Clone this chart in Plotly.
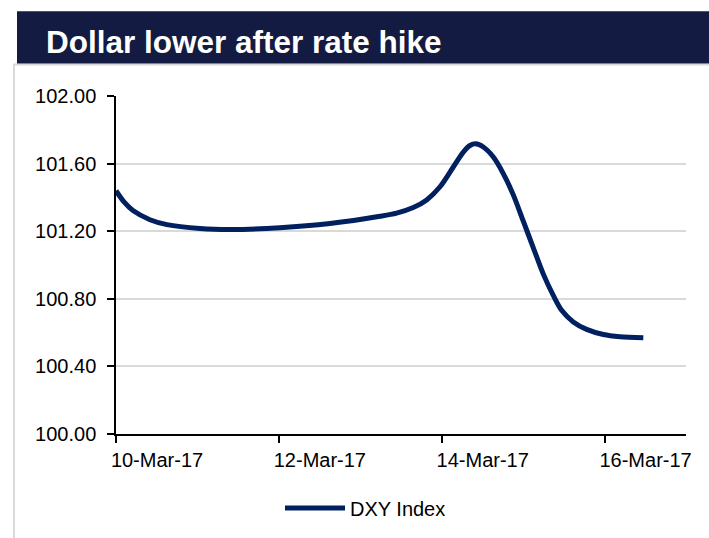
import plotly.graph_objects as go

# DXY Index readings
dates = [
    "2017-03-10 00:00", "2017-03-10 02:30", "2017-03-10 05:00", "2017-03-10 10:00", "2017-03-10 15:00",
    "2017-03-11 00:45", "2017-03-11 09:36", "2017-03-12 00:20", "2017-03-12 15:04",
    "2017-03-13 05:49", "2017-03-13 10:43", "2017-03-13 15:37", "2017-03-13 19:34",
    "2017-03-13 23:30", "2017-03-14 03:25", "2017-03-14 06:22", "2017-03-14 08:20",
    "2017-03-14 10:00", "2017-03-14 12:16", "2017-03-14 15:13", "2017-03-14 18:09",
    "2017-03-14 21:06", "2017-03-15 00:03", "2017-03-15 03:00", "2017-03-15 05:57",
    "2017-03-15 08:53", "2017-03-15 11:21", "2017-03-15 14:47", "2017-03-15 18:43",
    "2017-03-15 23:38", "2017-03-16 04:32", "2017-03-16 11:25",
]
dxy = [
    101.44, 101.37, 101.322, 101.268, 101.239,
    101.216, 101.21, 101.22, 101.245,
    101.288, 101.307, 101.34, 101.385,
    101.463, 101.58, 101.668, 101.707,
    101.717, 101.698, 101.639, 101.541,
    101.415, 101.259, 101.102, 100.946,
    100.82, 100.732, 100.663, 100.619,
    100.589, 100.576, 100.57,
]
series_name = "DXY Index"
title_text = "Dollar lower after rate hike"
y_ticks = [100.0, 100.4, 100.8, 101.2, 101.6, 102.0]
x_ticks = ["2017-03-10", "2017-03-12", "2017-03-14", "2017-03-16"]

W, H = 709, 538
L, R, T, B = 116, 23, 96, 103
pw, ph = W - L - R, H - T - B


def px_x(p):
    return (p - L) / pw


def px_y(p):
    return (H - B - p) / ph


fig = go.Figure()
fig.add_trace(go.Scatter(
    x=dates, y=dxy, name=series_name, mode="lines",
    line=dict(color="#002060", width=5, shape="spline", smoothing=0.9),
))

font = "Liberation Sans, Arial, sans-serif"

fig.update_layout(
    width=W, height=H,
    margin=dict(l=L, r=R, t=T, b=B),
    paper_bgcolor="white", plot_bgcolor="white",
    font=dict(family=font, size=20, color="#000000"),
    showlegend=True,
    legend=dict(
        orientation="h", x=px_x(280), y=px_y(508), xanchor="left", yanchor="middle",
        font=dict(size=20, family=font), itemwidth=60, bgcolor="rgba(0,0,0,0)",
    ),
    xaxis=dict(
        type="date", range=["2017-03-10", "2017-03-17"],
        tickvals=x_ticks, tickformat="%d-%b-%y",
        showgrid=False, showline=True, linecolor="#000000", linewidth=1.5,
        ticks="outside", ticklen=7, tickwidth=1.5, tickcolor="#000000",
        ticklabelshift=41, zeroline=False,
        tickfont=dict(size=20, family=font),
    ),
    yaxis=dict(
        range=[100.0, 102.0], tickvals=y_ticks, tickformat=".2f",
        showgrid=True, gridcolor="#d9d9d9", gridwidth=1.5,
        showline=True, linecolor="#000000", linewidth=1.5,
        ticks="outside", ticklen=7, tickwidth=1.5, tickcolor="#000000",
        ticklabelstandoff=7,
        zeroline=False, tickfont=dict(size=20, family=font),
    ),
    shapes=[
        dict(type="rect", xref="paper", yref="paper",
             x0=px_x(14), x1=px_x(730), y0=px_y(560), y1=px_y(64.5),
             line=dict(color="#d9d9d9", width=2), fillcolor="rgba(0,0,0,0)", layer="below"),
        dict(type="rect", xref="paper", yref="paper",
             x0=px_x(17), x1=px_x(720), y0=px_y(63.5), y1=px_y(11),
             line=dict(width=0), fillcolor="#131b42", layer="above"),
    ],
    annotations=[
        dict(text="<b>" + title_text + "</b>", xref="paper", yref="paper",
             x=px_x(44), y=px_y(42), xanchor="left", yanchor="middle",
             showarrow=False, font=dict(size=31.5, color="white", family=font)),
    ],
)

fig.write_html("out.html")
